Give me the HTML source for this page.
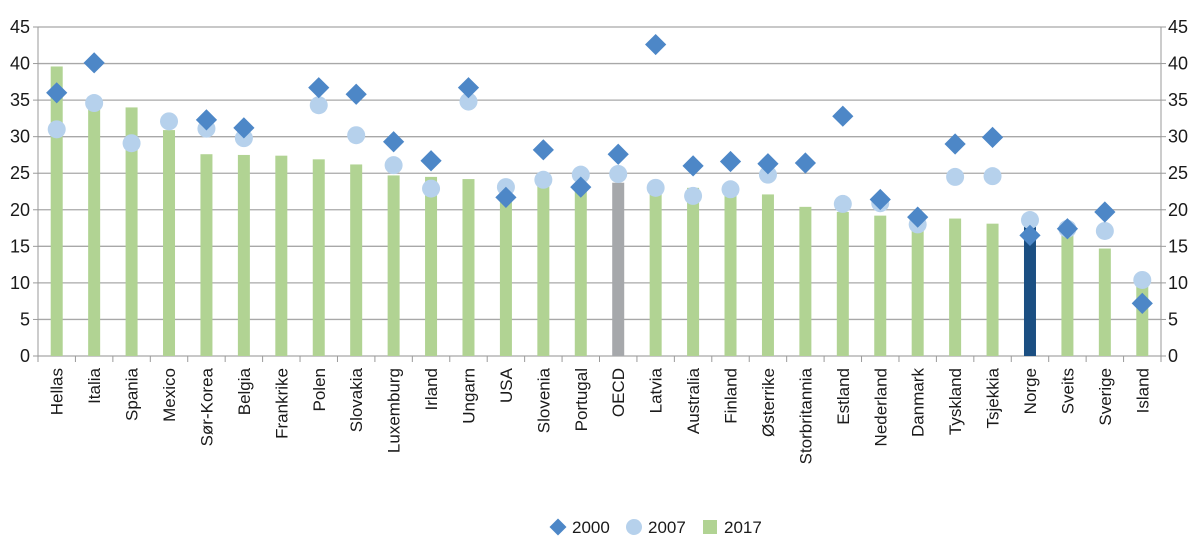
<!DOCTYPE html>
<html><head><meta charset="utf-8"><style>
html,body{margin:0;padding:0;background:#fff;width:1200px;height:558px;overflow:hidden}
svg text{font-family:"Liberation Sans",sans-serif;fill:#1a1a1a}
</style></head><body>
<svg id="chart" width="1200" height="558" viewBox="0 0 1200 558" xmlns="http://www.w3.org/2000/svg">
<g id="grid"></g>
<g id="bars"></g>
<g id="pts"></g>
<g id="axes"></g>
<g id="legend" transform="translate(560,527)">
 <g><rect x="-8" y="-6" width="12" height="12" fill="#4d87c7" transform="rotate(45 -2 0)"/><text x="12" y="6" font-size="17">2000</text></g>
 <g><circle cx="74" cy="0" r="8" fill="#b6d1ec"/><text x="88" y="6" font-size="17">2007</text></g>
 <g><rect x="143" y="-7" width="14" height="14" fill="#b1d393"/><text x="164" y="6" font-size="17">2017</text></g>
</g>
</svg>
<script>
const categories=["Hellas","Italia","Spania","Mexico","Sør-Korea","Belgia","Frankrike","Polen","Slovakia","Luxemburg","Irland","Ungarn","USA","Slovenia","Portugal","OECD","Latvia","Australia","Finland","Østerrike","Storbritannia","Estland","Nederland","Danmark","Tyskland","Tsjekkia","Norge","Sveits","Sverige","Island"];
const v2017=[39.6,34.4,34.0,30.9,27.6,27.5,27.4,26.9,26.2,24.7,24.5,24.2,24.0,23.8,23.2,23.7,22.6,23.0,22.5,22.1,20.4,19.7,19.2,17.8,18.8,18.1,17.7,16.5,14.7,9.7];
const v2000=[36.0,40.1,null,null,32.3,31.2,null,36.7,35.8,29.3,26.7,36.7,21.7,28.2,23.1,27.6,42.6,26.0,26.6,26.3,26.4,32.8,21.4,19.0,29.0,29.9,16.5,17.4,19.7,7.2];
const v2007=[31.0,34.6,29.1,32.1,31.1,29.8,null,34.3,30.2,26.1,22.9,34.8,23.1,24.1,24.8,24.9,23.0,21.9,22.8,24.8,null,20.8,20.9,18.0,24.5,24.6,18.6,17.4,17.1,10.4];
const yTicks=[0,5,10,15,20,25,30,35,40,45];
const NS="http://www.w3.org/2000/svg";
const L=38,R=1161,Y0=356,Y45=27;
const step=(R-L)/categories.length;
const x=i=>L+step*(i+0.5);
const y=v=>Y0-(v/45)*(Y0-Y45);
function mk(t,a,p){const e=document.createElementNS(NS,t);for(const k in a)e.setAttribute(k,a[k]);p.appendChild(e);return e;}
const grid=document.getElementById('grid'),bars=document.getElementById('bars'),pts=document.getElementById('pts'),axes=document.getElementById('axes');
yTicks.forEach(t=>{
 const g=mk('line',{x1:L,x2:R,y1:y(t),y2:y(t),stroke:'#a8a8a8','stroke-width':1.3},grid);
 
 
 const a=mk('text',{x:30,y:y(t)+6,'text-anchor':'end','font-size':18},axes);a.textContent=t;
 
 
 const b=mk('text',{x:1168,y:y(t)+6,'text-anchor':'start','font-size':18},axes);b.textContent=t;
 
 
 mk('line',{x1:L-5,x2:L,y1:y(t),y2:y(t),stroke:'#9a9a9a'},axes);
 mk('line',{x1:R,x2:R+5,y1:y(t),y2:y(t),stroke:'#9a9a9a'},axes);
});
mk('line',{x1:L,x2:L,y1:Y45,y2:Y0+6,stroke:'#9a9a9a'},axes);
mk('line',{x1:R,x2:R,y1:Y45,y2:Y0+6,stroke:'#9a9a9a'},axes);
for(let i=0;i<=categories.length;i++)mk('line',{x1:L+step*i,x2:L+step*i,y1:Y0,y2:Y0+6,stroke:'#9a9a9a'},axes);
categories.forEach((c,i)=>{
 const col=c==='OECD'?'#a6a8ab':(c==='Norge'?'#1b4f82':'#b1d393');
 const r=mk('rect',{x:x(i)-6,y:y(v2017[i]),width:12,height:Y0-y(v2017[i]),fill:col},bars);
 
 
 const t=mk('text',{transform:`translate(${x(i)+6},368) rotate(-90)`,'text-anchor':'end','font-size':17},axes);t.textContent=c;
 
 
});
categories.forEach((c,i)=>{
 if(v2007[i]!=null){const e=mk('circle',{cx:x(i),cy:y(v2007[i]),r:9,fill:'#b6d1ec'},pts);
 
 }
});
categories.forEach((c,i)=>{
 if(v2000[i]!=null){const cx=x(i),cy=y(v2000[i]);const e=mk('rect',{x:cx-7.5,y:cy-7.5,width:15,height:15,fill:'#4d87c7',transform:`rotate(45 ${cx} ${cy})`},pts);
 
 }
});
</script>
</body></html>
